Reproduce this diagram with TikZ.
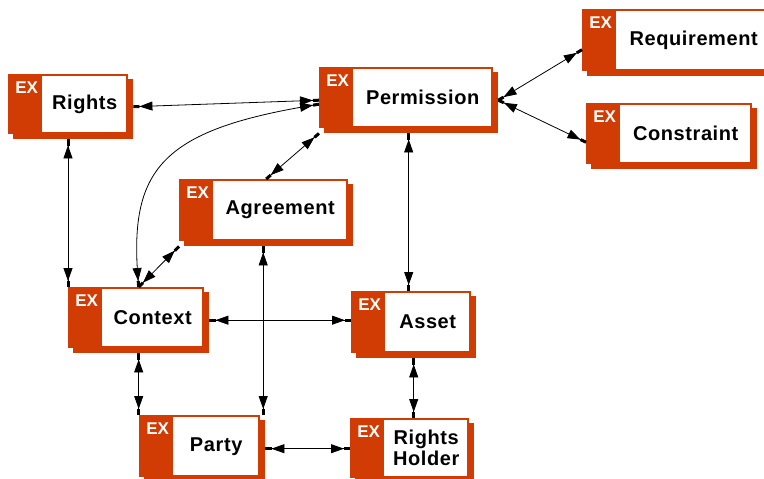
\documentclass[tikz,border=0pt]{standalone}
\usepackage{fontspec}
\setmainfont{Liberation Sans}
\newfontfamily\boxfont[LetterSpace=3]{Liberation Sans}
\usetikzlibrary{arrows.meta}
\definecolor{exorange}{RGB}{208,60,4}

\begin{document}
\begin{tikzpicture}[x=1pt,y=-1pt,
        link/.style={line width=0.8pt,
            {Rectangle[length=6pt,width=3pt,sep=0pt] Triangle[length=13pt,width=9pt,sep=0pt]}-{Triangle[length=13pt,width=9pt,sep=0pt] Rectangle[length=6pt,width=3pt,sep=0pt]}},
        exmark/.style={text=white, font=\bfseries\fontsize{17}{17}\selectfont,
            inner sep=0pt, minimum width=0pt, minimum height=0pt, anchor=north west},
        extext/.style={align=center, font=\boxfont\bfseries\fontsize{20}{21}\selectfont,
            inner sep=0pt, minimum width=0pt, minimum height=0pt, anchor=center},
        exbox/.style n args={3}{rectangle, inner sep=0pt, anchor=north west,
            minimum width=#1, minimum height=#2,
            path picture={
                % shadow, box, white panel
                \fill[exorange] ([shift={(5pt,-5pt)}]path picture bounding box.north west)
                    rectangle (path picture bounding box.south east);
                \fill[exorange] (path picture bounding box.north west)
                    rectangle ([shift={(-5pt,5pt)}]path picture bounding box.south east);
                \fill[white] ([shift={(34pt,-2pt)}]path picture bounding box.north west)
                    rectangle ([shift={(-7pt,7pt)}]path picture bounding box.south east);
                \node[exmark] at ([shift={(7pt,-7pt)}]path picture bounding box.north west) {EX};
                \node[extext] at ([shift={(14pt,2.5pt)}]path picture bounding box.center) {#3};
            }}]
    \useasboundingbox (0,0) rectangle (764,479);

    \node[exbox={125pt}{65pt}{Rights}]        (rights)  at (8,74)    {};
    \node[exbox={179pt}{66pt}{Permission}]    (perm)    at (319,67)  {};
    \node[exbox={195pt}{67pt}{Requirement}]   (req)     at (582,9)   {};
    \node[exbox={171pt}{66pt}{Constraint}]    (cons)    at (586,103) {};
    \node[exbox={174pt}{67pt}{Agreement}]     (agree)   at (179,179) {};
    \node[exbox={141pt}{66pt}{Context}]       (context) at (68,287)  {};
    \node[exbox={125pt}{67pt}{Asset}]         (asset)   at (351,291) {};
    \node[exbox={126pt}{67pt}{Party}]         (party)   at (139,415) {};
    \node[exbox={124pt}{65pt}{Rights\\Holder}] (holder) at (350,418) {};

    \coordinate (agreefoot) at ([xshift=-3pt]agree.south);

    \path[link]
        (rights.east)      edge (perm.west)
        (perm.east)        edge ([yshift=-7pt]req.west)
        (perm.east)        edge ([yshift=-6pt]cons.west)
        (perm.south)       edge (perm.south |- asset.north)
        (perm.south west)  edge (agree.north)
        (agree.south west) edge (context.north)
        (agreefoot)        edge (agreefoot |- party.north)
        (context.east)     edge (context.east -| asset.west)
        (context.north west |- rights.south) edge (context.north west)
        (context.south)    edge (context.south |- party.north)
        (party.east)       edge (party.east -| holder.west)
        (asset.south)      edge (asset.south |- holder.north)
        ;
    \draw[link] ([yshift=-4pt]perm.west) .. controls +(-159,26) and +(-10,-117) .. (context.north);
\end{tikzpicture}
\end{document}
